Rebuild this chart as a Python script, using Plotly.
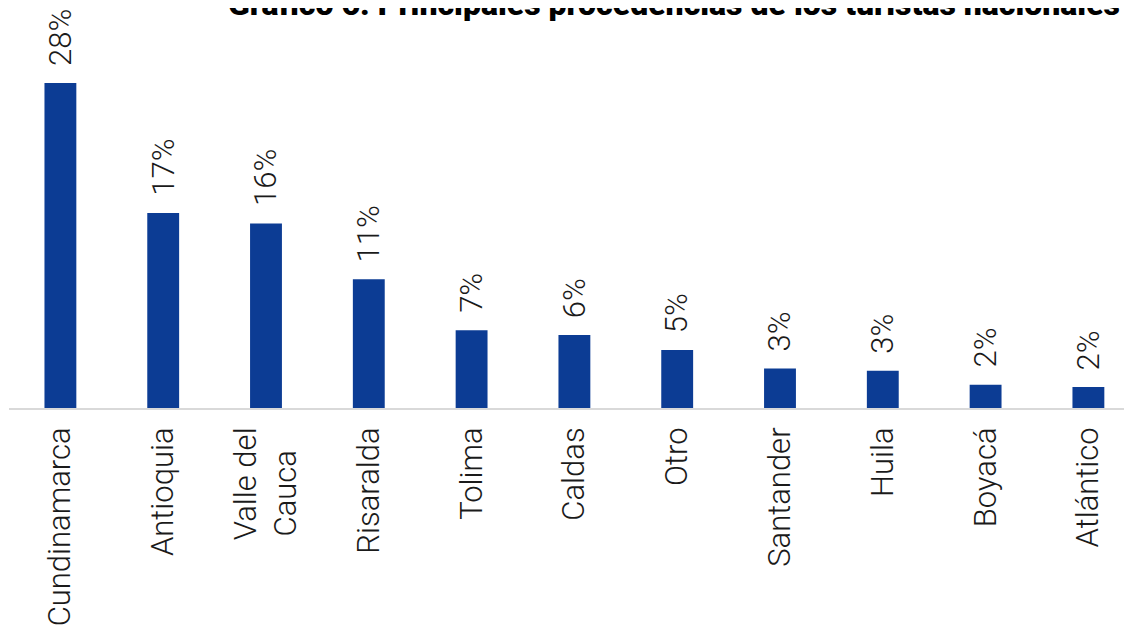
import plotly.graph_objects as go

NB = "\u00a0"
categories = ["Cundinamarca", "Antioquia", "Valle del<br>Cauca" + NB * 3, "Risaralda", "Tolima",
              "Caldas", "Otro", "Santander", "Huila", "Boyacá", "Atlántico"]
values = [28.0, 16.8, 15.9, 11.1, 6.7, 6.3, 5.0, 3.4, 3.2, 2.0, 1.8]
labels = ["28%", "17%", "16%", "11%", "7%", "6%", "5%", "3%", "3%", "2%", "2%"]
title_text = "Gráfico 6. Principales procedencias de los turistas nacionales"

BAR = "#0C3C94"
FONT = "Roboto"

fig = go.Figure()
fig.add_trace(go.Bar(x=list(range(len(categories))), y=values, marker_color=BAR,
                     marker_line_width=0, width=0.31))

for i, (v, lab) in enumerate(zip(values, labels)):
    fig.add_annotation(x=i, y=v, text=lab, textangle=-90, showarrow=False,
                       yanchor="bottom", xanchor="center", yshift=15,
                       font=dict(family=FONT, size=31, color="#1a1a1a", weight=300))

fig.add_annotation(xref="paper", yref="paper", x=1.0, y=1.0, xanchor="right",
                   yanchor="bottom", yshift=-5, xshift=-18, text=title_text,
                   showarrow=False, font=dict(family=FONT, size=32, color="#000000", weight=900))

fig.update_layout(
    width=1132, height=629,
    margin=dict(l=1, r=0, t=12, b=229),
    paper_bgcolor="white", plot_bgcolor="white",
    showlegend=False,
    xaxis=dict(range=[-0.5, 10.502], tickmode="array",
               tickvals=list(range(len(categories))), ticktext=categories,
               tickangle=-90, showgrid=False, zeroline=False,
               showline=True, linecolor="#d9d9d9", linewidth=2, ticks="",
               ticklabelstandoff=5,
               tickfont=dict(family=FONT, size=31, color="#1a1a1a", weight=300)),
    yaxis=dict(range=[0, 33.43], visible=False, showgrid=False, zeroline=False),
)

fig.write_html("out.html")
